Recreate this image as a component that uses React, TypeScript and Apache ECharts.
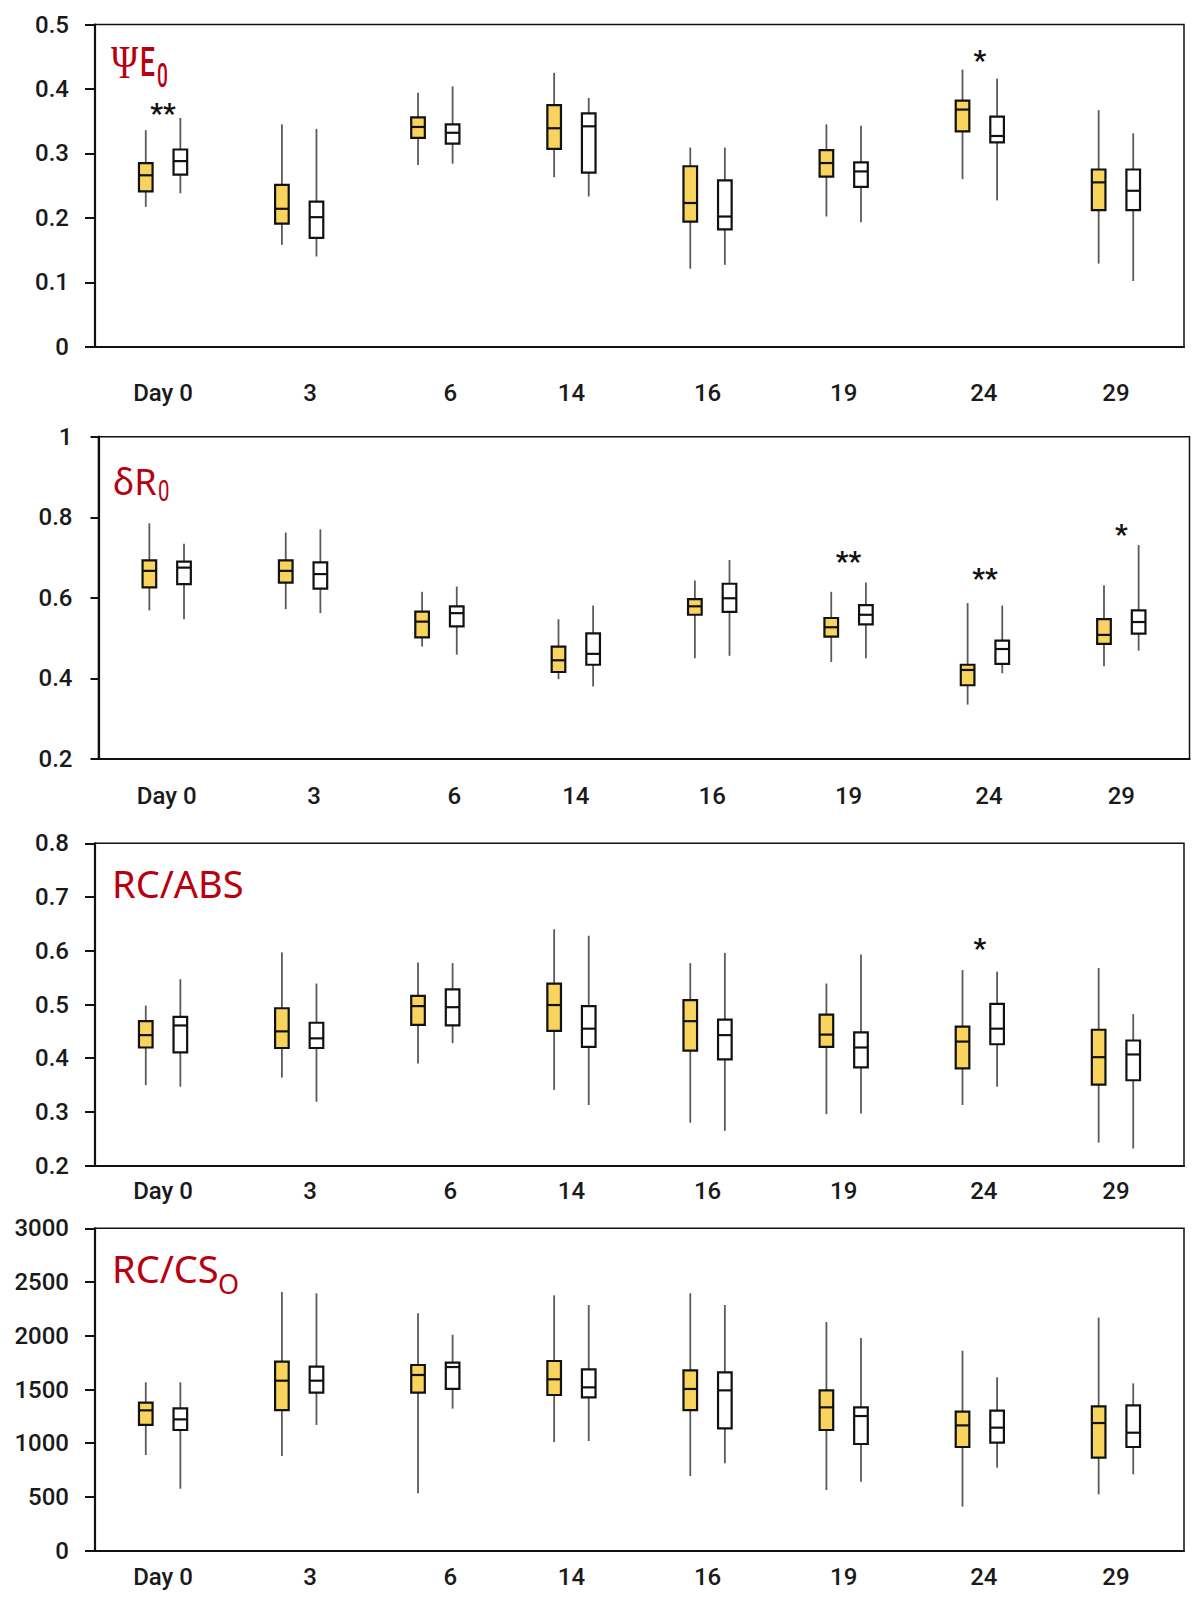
import React, { useEffect, useRef } from "react";
import * as echarts from "echarts";

// ---------------- data ----------------
const categories = ["Day 0", "3", "6", "14", "16", "19", "24", "29"];

// each entry: [min, Q1, median, Q3, max]
const psiE0Yellow = [
  [0.217, 0.241, 0.266, 0.285, 0.336],
  [0.158, 0.191, 0.214, 0.251, 0.345],
  [0.282, 0.324, 0.341, 0.356, 0.394],
  [0.263, 0.307, 0.339, 0.375, 0.425],
  [0.121, 0.194, 0.223, 0.28, 0.309],
  [0.202, 0.264, 0.285, 0.305, 0.345],
  [0.26, 0.334, 0.368, 0.382, 0.43],
  [0.129, 0.212, 0.255, 0.275, 0.367],
];
const psiE0White = [
  [0.238, 0.267, 0.288, 0.306, 0.355],
  [0.14, 0.169, 0.201, 0.225, 0.338],
  [0.284, 0.315, 0.332, 0.345, 0.404],
  [0.233, 0.27, 0.342, 0.362, 0.386],
  [0.127, 0.182, 0.202, 0.258, 0.309],
  [0.193, 0.248, 0.272, 0.286, 0.343],
  [0.227, 0.317, 0.327, 0.357, 0.416],
  [0.102, 0.212, 0.242, 0.275, 0.331],
];
const deltaR0Yellow = [
  [0.569, 0.626, 0.667, 0.693, 0.785],
  [0.572, 0.638, 0.667, 0.693, 0.762],
  [0.479, 0.502, 0.541, 0.566, 0.615],
  [0.398, 0.416, 0.445, 0.479, 0.547],
  [0.45, 0.558, 0.579, 0.597, 0.643],
  [0.441, 0.504, 0.527, 0.55, 0.615],
  [0.335, 0.383, 0.421, 0.434, 0.587],
  [0.43, 0.486, 0.508, 0.547, 0.631],
];
const deltaR0White = [
  [0.547, 0.634, 0.675, 0.69, 0.734],
  [0.562, 0.623, 0.659, 0.688, 0.77],
  [0.459, 0.529, 0.562, 0.579, 0.628],
  [0.38, 0.434, 0.461, 0.512, 0.581],
  [0.456, 0.565, 0.599, 0.635, 0.694],
  [0.45, 0.534, 0.558, 0.582, 0.638],
  [0.413, 0.436, 0.473, 0.494, 0.581],
  [0.469, 0.511, 0.54, 0.569, 0.731],
];
const rcAbsYellow = [
  [0.35, 0.42, 0.443, 0.469, 0.498],
  [0.364, 0.419, 0.45, 0.493, 0.597],
  [0.39, 0.462, 0.497, 0.516, 0.578],
  [0.341, 0.451, 0.499, 0.539, 0.64],
  [0.28, 0.414, 0.469, 0.508, 0.577],
  [0.296, 0.421, 0.444, 0.481, 0.539],
  [0.313, 0.381, 0.431, 0.459, 0.564],
  [0.243, 0.351, 0.402, 0.453, 0.568],
];
const rcAbsWhite = [
  [0.347, 0.411, 0.461, 0.477, 0.547],
  [0.319, 0.419, 0.437, 0.466, 0.539],
  [0.428, 0.461, 0.495, 0.528, 0.577],
  [0.313, 0.421, 0.455, 0.497, 0.628],
  [0.265, 0.398, 0.443, 0.472, 0.596],
  [0.297, 0.383, 0.42, 0.448, 0.593],
  [0.347, 0.426, 0.455, 0.501, 0.561],
  [0.232, 0.359, 0.407, 0.433, 0.482],
];
const rcCsoYellow = [
  [890, 1170, 1306, 1377, 1567],
  [881, 1309, 1582, 1759, 2407],
  [534, 1471, 1635, 1728, 2209],
  [1011, 1449, 1595, 1765, 2376],
  [695, 1309, 1505, 1678, 2395],
  [565, 1123, 1334, 1492, 2128],
  [410, 965, 1166, 1294, 1861],
  [524, 866, 1188, 1343, 2169],
];
const rcCsoWhite = [
  [577, 1123, 1222, 1325, 1567],
  [1170, 1471, 1582, 1713, 2395],
  [1322, 1505, 1709, 1750, 2010],
  [1021, 1427, 1520, 1688, 2286],
  [813, 1139, 1492, 1660, 2286],
  [642, 993, 1253, 1334, 1979],
  [773, 1005, 1145, 1303, 1613],
  [710, 965, 1098, 1353, 1557],
];

// significance marks: [category index, y value, mark]
const psiE0Stars = [
  [0, 0.369, "**"],
  [6, 0.452, "*"],
];
const deltaR0Stars = [
  [5, 0.702, "**"],
  [6, 0.66, "**"],
  [7, 0.77, "*"],
];
const rcAbsStars = [[6, 0.613, "*"]];
const rcCsoStars: any[] = [];

// y axis ranges: [min, max, interval]
const psiE0Range = [0, 0.5, 0.1];
const deltaR0Range = [0.2, 1, 0.2];
const rcAbsRange = [0.2, 0.8, 0.1];
const rcCsoRange = [0, 3000, 500];

// ---------------- styles ----------------
const AXIS_FONT = "Roboto, 'DejaVu Sans', sans-serif";
const TITLE_FONT = "'Noto Sans', 'Open Sans', sans-serif";
const SERIF_FONT = "'Liberation Serif', 'DejaVu Serif', serif";
const RED = "#B8000F";
const YELLOW = "#F8D35E";
const LABEL_SIZE = 24;

const panels = [
  { grid: { left: 95, top: 24.5, width: 1089, height: 322.2 }, range: psiE0Range, yellow: psiE0Yellow, white: psiE0White, stars: psiE0Stars, labelMargin: 34, tick: 10 },
  { grid: { left: 98.5, top: 436.7, width: 1091, height: 322.3 }, range: deltaR0Range, yellow: deltaR0Yellow, white: deltaR0White, stars: deltaR0Stars, labelMargin: 25, tick: 8 },
  { grid: { left: 95, top: 843.3, width: 1089, height: 322.4 }, range: rcAbsRange, yellow: rcAbsYellow, white: rcAbsWhite, stars: rcAbsStars, labelMargin: 13, tick: 10 },
  { grid: { left: 95, top: 1228.3, width: 1089, height: 322.4 }, range: rcCsoRange, yellow: rcCsoYellow, white: rcCsoWhite, stars: rcCsoStars, labelMargin: 14, tick: 10 },
];

const labelShift: Record<string, string> = { "3": "s11", "6": "s15", "24": "s4" };

function labelRich() {
  const base = { fontFamily: AXIS_FONT, fontSize: LABEL_SIZE, fontWeight: 500, color: "#1a1a1a", lineHeight: 24 };
  return {
    n: { ...base },
    s11: { ...base, padding: [0, 0, 0, 22] },
    s15: { ...base, padding: [0, 0, 0, 30] },
    s4: { ...base, padding: [0, 0, 0, 8] },
  };
}

function boxSeries(data: number[][], idx: number, side: number, fill: string) {
  return {
    type: "custom",
    xAxisIndex: idx,
    yAxisIndex: idx,
    data: data.map((d, i) => [i, ...d]),
    encode: { x: 0, y: [1, 2, 3, 4, 5] },
    renderItem: (params: any, api: any) => {
      const ci = api.value(0);
      const band = api.size([1, 0])[0];
      const pMin = api.coord([ci, api.value(1)]);
      const pQ1 = api.coord([ci, api.value(2)]);
      const pMed = api.coord([ci, api.value(3)]);
      const pQ3 = api.coord([ci, api.value(4)]);
      const pMax = api.coord([ci, api.value(5)]);
      const x = pMin[0] + side * band * 0.127;
      const hw = band * 0.05;
      return {
        type: "group",
        children: [
          { type: "line", shape: { x1: x, y1: pMax[1], x2: x, y2: pMin[1] }, style: { stroke: "#5a5a5a", lineWidth: 1.8 } },
          { type: "rect", shape: { x: x - hw, y: pQ3[1], width: hw * 2, height: pQ1[1] - pQ3[1] }, style: { fill, stroke: "#111", lineWidth: 2.2 } },
          { type: "line", shape: { x1: x - hw, y1: pMed[1], x2: x + hw, y2: pMed[1] }, style: { stroke: "#111", lineWidth: 2.2 } },
        ],
      };
    },
    z: 3,
  };
}

function starSeries(stars: any[], idx: number) {
  return {
    type: "custom",
    xAxisIndex: idx,
    yAxisIndex: idx,
    data: stars.map((s) => [s[0], s[1], s[2]]),
    dimensions: ["x", "y", "mark"],
    encode: { x: 0, y: 1 },
    renderItem: (params: any, api: any) => {
      const p = api.coord([api.value(0), api.value(1)]);
      return {
        type: "text",
        x: p[0],
        y: p[1] + 5,
        style: {
          text: String(api.value(2)),
          fontFamily: AXIS_FONT,
          fontSize: 28,
          fontWeight: "bold",
          fill: "#111",
          align: "center",
          verticalAlign: "middle",
        },
      };
    },
    z: 4,
  };
}

function titleText(text: string, x: number, y: number, fontFamily: string, fontSize: number, scaleX = 1, fontWeight: any = "normal") {
  return {
    type: "text",
    x,
    y,
    scaleX,
    z: 10,
    style: { text, fontFamily, fontSize, fontWeight, fill: RED, align: "left", verticalAlign: "middle" },
  };
}

function buildOption() {
  const grid: any[] = [];
  const xAxis: any[] = [];
  const yAxis: any[] = [];
  const series: any[] = [];
  panels.forEach((p, i) => {
    grid.push({ ...p.grid, show: true, borderColor: "#111", borderWidth: 1.5, backgroundColor: "transparent", containLabel: false });
    xAxis.push({
      type: "category",
      gridIndex: i,
      data: categories,
      axisLine: { show: true, lineStyle: { color: "#111", width: 2.2 } },
      axisTick: { show: false },
      splitLine: { show: false },
      axisLabel: {
        margin: p.labelMargin,
        interval: 0,
        formatter: (v: string) => `{${labelShift[v] || "n"}|${v}}`,
        rich: labelRich(),
      },
    });
    yAxis.push({
      type: "value",
      gridIndex: i,
      min: p.range[0],
      max: p.range[1],
      interval: p.range[2],
      axisLine: { show: true, lineStyle: { color: "#111", width: 2.2 } },
      axisTick: { show: true, length: p.tick, lineStyle: { color: "#111", width: 2 } },
      splitLine: { show: false },
      axisLabel: {
        margin: 26,
        fontFamily: AXIS_FONT,
        fontSize: LABEL_SIZE,
        fontWeight: 500,
        color: "#1a1a1a",
        formatter: (v: number) => String(Math.round(v * 1000) / 1000),
      },
    });
    series.push(boxSeries(p.yellow, i, -1, YELLOW));
    series.push(boxSeries(p.white, i, 1, "#ffffff"));
    series.push(starSeries(p.stars, i));
  });

  const graphic: any[] = [
    // ΨE0
    titleText("Ψ", 111, 63, SERIF_FONT, 46, 0.8),
    titleText("E", 140, 62.5, AXIS_FONT, 40, 0.66, 500),
    titleText("0", 157, 75.5, AXIS_FONT, 33, 0.58, 500),
    // δR0
    titleText("δR", 113, 481, TITLE_FONT, 36),
    titleText("0", 158, 490, AXIS_FONT, 30, 0.68),
    // RC/ABS
    titleText("RC/ABS", 112, 883, TITLE_FONT, 38),
    // RC/CSO
    titleText("RC/CS", 112, 1268, TITLE_FONT, 38),
    titleText("O", 218, 1283, TITLE_FONT, 27),
  ];

  return { animation: false, backgroundColor: "#ffffff", grid, xAxis, yAxis, series, graphic };
}

export default function App() {
  const ref = useRef<HTMLDivElement>(null);
  useEffect(() => {
    if (!ref.current) return;
    const chart = echarts.init(ref.current, undefined, { renderer: "svg" });
    chart.setOption(buildOption() as any);
    return () => chart.dispose();
  }, []);
  return (
    <div
      ref={ref}
      style={{ position: "absolute", left: 0, top: 0, width: 1192, height: 1597, background: "#fff" }}
    />
  );
}
